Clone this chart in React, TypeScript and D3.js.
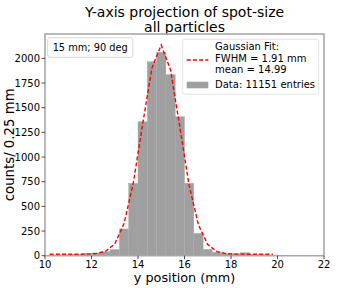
import React from "react";
import * as d3 from "d3";

const binLeft = [10, 10.4, 10.8, 11.2, 11.6, 12, 12.4, 12.8, 13.2, 13.6, 14, 14.4, 14.8, 15.2, 15.6, 16, 16.4, 16.8, 17.2, 17.6, 18, 18.4, 18.8, 19.2, 19.6];
const binWidth = 0.4;
const counts = [5, 8, 10, 15, 25, 28, 40, 62, 271, 734, 1358, 1966, 2062, 1835, 1409, 734, 227, 65, 35, 20, 20, 30, 15, 10, 5];
const fitX = [10.2, 10.6, 11, 11.4, 11.8, 12.2, 12.6, 13, 13.4, 13.8, 14.2, 14.6, 15, 15.4, 15.8, 16.2, 16.6, 17, 17.4, 17.8, 18.2, 18.6, 19, 19.4, 19.8];
const fitY = [15, 15, 15, 15, 16, 21, 43, 119, 325, 738, 1334, 1904, 2135, 1881, 1302, 712, 311, 113, 41, 20, 16, 15, 15, 15, 15];
const xTicks = [10, 12, 14, 16, 18, 20, 22];
const yTicks = [0, 250, 500, 750, 1000, 1250, 1500, 1750, 2000];
const titleLines = ["Y-axis projection of spot-size", "all particles"];
const legendLines = ["Gaussian Fit:", "FWHM = 1.91 mm", "mean = 14.99"];
const dataLabel = "Data: 11151 entries";
const boxLabel = "15 mm; 90 deg";

const W = 360, H = 288;
const L = 45, R = 324, T = 34, B = 255.7;
const FONT = "DejaVu Sans, sans-serif";

export default function App() {
  const x = d3.scaleLinear().domain([10, 22]).range([L, R]);
  const y = d3.scaleLinear().domain([0, 2247]).range([B, T]);
  const line = d3.line<number>().x((_, i) => x(fitX[i])).y((d) => y(d));
  const spine = "#a8a8a8";
  return (
    <svg width={W} height={H} style={{ position: "absolute", left: 0, top: 0 }} fontFamily={FONT}>
      <rect width={W} height={H} fill="#fff" />
      {titleLines.map((t, i) => (
        <text key={t} x={(L + R) / 2} y={17 + i * 15} fontSize={14} textAnchor="middle">{t}</text>
      ))}
      {binLeft.map((b, i) => (
        <rect key={i} x={x(b)} y={y(counts[i])} width={x(b + binWidth) - x(b)} height={B - y(counts[i])}
          fill="#a0a0a0" stroke="#a9a9a9" strokeWidth={0.4} />
      ))}
      <path d={line(fitY) || ""} fill="none" stroke="#ff0000" strokeWidth={1.4} strokeDasharray="4,2.2" />
      <rect x={L} y={T} width={R - L} height={B - T} fill="none" stroke={spine} strokeWidth={1.6} />
      {xTicks.map((t) => (
        <g key={t}>
          <line x1={x(t)} x2={x(t)} y1={B} y2={B + 3.5} stroke="#222" strokeWidth={0.8} />
          <text x={x(t)} y={267.5} fontSize={10} textAnchor="middle">{t}</text>
        </g>
      ))}
      {yTicks.map((t) => (
        <g key={t}>
          <line x1={L} x2={L - 3.5} y1={y(t)} y2={y(t)} stroke="#222" strokeWidth={0.8} />
          <text x={L - 5} y={y(t) + 3.6} fontSize={10} textAnchor="end">{t}</text>
        </g>
      ))}
      <text x={(L + R) / 2} y={281.5} fontSize={12.8} textAnchor="middle">y position (mm)</text>
      <text transform={`translate(13.8,${(T + B) / 2}) rotate(-90)`} fontSize={13.3} textAnchor="middle">counts/ 0.25 mm</text>
      <rect x={47.7} y={37.7} width={85} height={19.6} rx={2} fill="#fff" stroke="#cccccc" strokeWidth={0.8} />
      <text x={90.2} y={51.2} fontSize={9.8} textAnchor="middle">{boxLabel}</text>
      <rect x={182.7} y={39.3} width={136} height={55} rx={2} fill="#fff" fillOpacity={0.8} stroke="#dddddd" strokeWidth={0.8} />
      {legendLines.map((t, i) => (
        <text key={t} x={215} y={50 + i * 11.6} fontSize={10}>{t}</text>
      ))}
      <line x1={186.7} x2={208.3} y1={60} y2={60} stroke="#ff0000" strokeWidth={1.4} strokeDasharray="4,2.2" />
      <rect x={186.7} y={81.7} width={21.6} height={6.6} fill="#a0a0a0" />
      <text x={215} y={88} fontSize={10}>{dataLabel}</text>
    </svg>
  );
}
